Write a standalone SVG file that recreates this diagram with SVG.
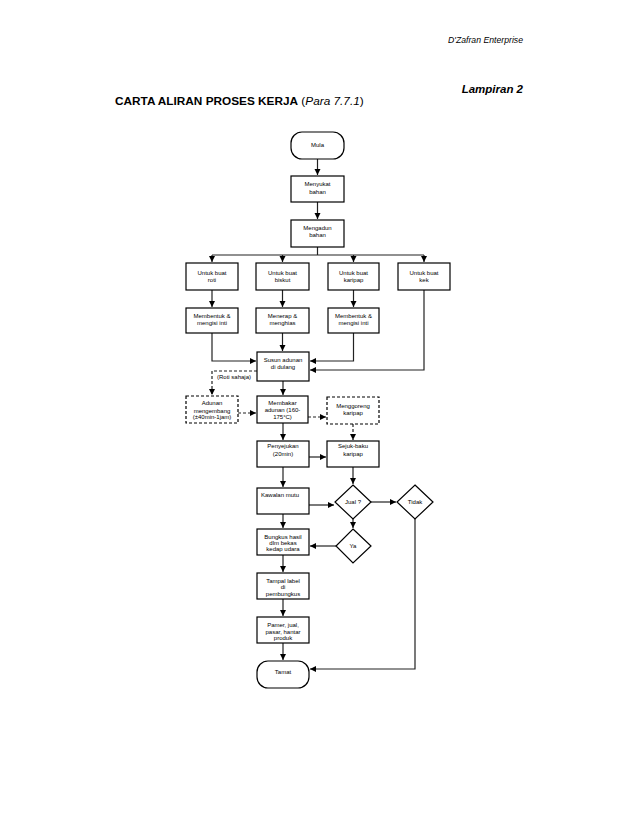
<svg xmlns="http://www.w3.org/2000/svg" width="638" height="826" viewBox="0 0 638 826">
<defs>
<style>
.b{fill:#fff;stroke:#000;stroke-width:1.2}
.d{fill:#fff;stroke:#000;stroke-width:1.2;stroke-dasharray:3,2}
.t{font-family:"Liberation Sans",Arial,sans-serif;font-size:6px;fill:#000;text-anchor:middle}
.c{fill:none;stroke:#222;stroke-width:1.2}
.cd{fill:none;stroke:#222;stroke-width:1.2;stroke-dasharray:3,2}
</style>
<marker id="a" markerUnits="userSpaceOnUse" markerWidth="7" markerHeight="7" refX="6" refY="3" orient="auto">
<path d="M0,0 L6,3 L0,6 z" fill="#000"/>
</marker>
</defs>
<rect width="638" height="826" fill="#fff"/>
<text x="523" y="43" font-family="Liberation Sans,Arial,sans-serif" font-size="9" font-style="italic" text-anchor="end" textLength="75" lengthAdjust="spacingAndGlyphs">D'Zafran Enterprise</text>
<text x="523" y="93" font-family="Liberation Sans,Arial,sans-serif" font-size="11.5" font-weight="bold" font-style="italic" text-anchor="end">Lampiran 2</text>
<text x="115" y="105" font-family="Liberation Sans,Arial,sans-serif" font-size="11.8"><tspan font-weight="bold">CARTA ALIRAN PROSES KERJA</tspan> (<tspan font-style="italic">Para 7.7.1</tspan>)</text>

<g id="connectors">
<path class="c" d="M317.5,159 V175" marker-end="url(#a)"/>
<path class="c" d="M317.5,202 V219" marker-end="url(#a)"/>
<path class="c" d="M317.5,247 V255 M212,255 H424"/>
<path class="c" d="M212,255 V262" marker-end="url(#a)"/>
<path class="c" d="M282.5,255 V262" marker-end="url(#a)"/>
<path class="c" d="M353.5,255 V262" marker-end="url(#a)"/>
<path class="c" d="M424,255 V262" marker-end="url(#a)"/>
<path class="c" d="M212,290 V307" marker-end="url(#a)"/>
<path class="c" d="M282.5,290 V307" marker-end="url(#a)"/>
<path class="c" d="M353.5,290 V307" marker-end="url(#a)"/>
<path class="c" d="M212,333 V361 H256" marker-end="url(#a)"/>
<path class="c" d="M282.5,333 V351" marker-end="url(#a)"/>
<path class="c" d="M353.5,333 V361 H310" marker-end="url(#a)"/>
<path class="c" d="M424,290 V370 H310" marker-end="url(#a)"/>
<path class="cd" d="M257,371 H212 V395" marker-end="url(#a)"/>
<path class="c" d="M283,381 V395" marker-end="url(#a)"/>
<path class="cd" d="M238,413 H256" marker-end="url(#a)"/>
<path class="cd" d="M308,417 H326" marker-end="url(#a)"/>
<path class="cd" d="M353,424 V440" marker-end="url(#a)"/>
<path class="c" d="M283,423 V440" marker-end="url(#a)"/>
<path class="c" d="M309,457 H326" marker-end="url(#a)"/>
<path class="c" d="M353,467 V484" marker-end="url(#a)"/>
<path class="c" d="M283,467 V487" marker-end="url(#a)"/>
<path class="c" d="M309,505 H334" marker-end="url(#a)"/>
<path class="c" d="M371,502 H396" marker-end="url(#a)"/>
<path class="c" d="M353,519 V528" marker-end="url(#a)"/>
<path class="c" d="M336,546 H310" marker-end="url(#a)"/>
<path class="c" d="M283,514 V528" marker-end="url(#a)"/>
<path class="c" d="M283,555 V572" marker-end="url(#a)"/>
<path class="c" d="M283,599 V616" marker-end="url(#a)"/>
<path class="c" d="M283,643 V660" marker-end="url(#a)"/>
<path class="c" d="M415,519 V669 H310" marker-end="url(#a)"/>
</g>

<g id="mula"><rect class="b" x="291" y="132" width="53" height="27" rx="11"/><text class="t" x="317.5" y="147">Mula</text></g>
<g id="menyukat"><rect class="b" x="291" y="176" width="53" height="26"/><text class="t" x="317.5" y="186">Menyukat</text><text class="t" x="317.5" y="194">bahan</text></g>
<g id="mengadun"><rect class="b" x="291" y="220" width="53" height="27"/><text class="t" x="317.5" y="230">Mengadun</text><text class="t" x="317.5" y="237">bahan</text></g>

<g id="roti"><rect class="b" x="186" y="263" width="52" height="27"/><text class="t" x="212" y="275">Untuk buat</text><text class="t" x="212" y="282">roti</text></g>
<g id="biskut"><rect class="b" x="256" y="263" width="53" height="27"/><text class="t" x="282.5" y="275">Untuk buat</text><text class="t" x="282.5" y="282">biskut</text></g>
<g id="karipap"><rect class="b" x="328" y="263" width="51" height="27"/><text class="t" x="353.5" y="275">Untuk buat</text><text class="t" x="353.5" y="282">karipap</text></g>
<g id="kek"><rect class="b" x="398" y="263" width="52" height="27"/><text class="t" x="424" y="275">Untuk buat</text><text class="t" x="424" y="282">kek</text></g>

<g id="membentuk1"><rect class="b" x="186" y="308" width="52" height="25"/><text class="t" x="212" y="318">Membentuk &amp;</text><text class="t" x="212" y="325">mengisi inti</text></g>
<g id="menerap"><rect class="b" x="256" y="308" width="53" height="25"/><text class="t" x="282.5" y="318">Menerap &amp;</text><text class="t" x="282.5" y="325">menghias</text></g>
<g id="membentuk2"><rect class="b" x="328" y="308" width="51" height="25"/><text class="t" x="353.5" y="318">Membentuk &amp;</text><text class="t" x="353.5" y="325">mengisi inti</text></g>

<g id="susun"><rect class="b" x="257" y="352" width="52" height="29"/><text class="t" x="283" y="362">Susun adunan</text><text class="t" x="283" y="369">di dulang</text></g>
<text x="217" y="379" font-family="Liberation Sans,Arial,sans-serif" font-size="6">(Roti sahaja)</text>

<g id="adunan"><rect class="d" x="186" y="396" width="52" height="27"/><text class="t" x="212" y="405">Adunan</text><text class="t" x="212" y="413">mengembang</text><text class="t" x="212" y="419" font-size="5">(±40min-1jam)</text></g>
<g id="membakar"><rect class="b" x="257" y="396" width="51" height="27"/><text class="t" x="282.5" y="405">Membakar</text><text class="t" x="282.5" y="412">adunan (160-</text><text class="t" x="282.5" y="419">175°C)</text></g>
<g id="menggoreng"><rect class="d" x="327" y="397" width="52" height="27"/><text class="t" x="353" y="408">Menggoreng</text><text class="t" x="353" y="415">karipap</text></g>

<g id="penyejukan"><rect class="b" x="257" y="441" width="52" height="26"/><text class="t" x="283" y="448">Penyejukan</text><text class="t" x="283" y="456">(20min)</text></g>
<g id="sejuk"><rect class="b" x="327" y="441" width="52" height="26"/><text class="t" x="353" y="448">Sejuk-baku</text><text class="t" x="353" y="456">karipap</text></g>

<g id="kawalan"><rect class="b" x="257" y="488" width="52" height="26"/><text class="t" x="280" y="497">Kawalan mutu</text></g>
<g id="jual"><path class="b" d="M353,485 L371,502 L353,519 L335,502 Z"/><text class="t" x="353" y="504">Jual ?</text></g>
<g id="tidak"><path class="b" d="M415,485 L433,502 L415,519 L397,502 Z"/><text class="t" x="415" y="504">Tidak</text></g>
<g id="ya"><path class="b" d="M353,529 L371,546 L353,563 L336,546 Z"/><text class="t" x="353" y="548">Ya</text></g>

<g id="bungkus"><rect class="b" x="257" y="529" width="52" height="26"/><text class="t" x="283" y="539">Bungkus hasil</text><text class="t" x="283" y="545">dlm bekas</text><text class="t" x="283" y="551">kedap udara</text></g>
<g id="tampal"><rect class="b" x="257" y="573" width="52" height="26"/><text class="t" x="283" y="583">Tampal label</text><text class="t" x="283" y="589">di</text><text class="t" x="283" y="596">pembungkus</text></g>
<g id="pamer"><rect class="b" x="257" y="617" width="52" height="26"/><text class="t" x="283" y="627">Pamer, jual,</text><text class="t" x="283" y="634">pasar, hantar</text><text class="t" x="283" y="640">produk</text></g>
<g id="tamat"><rect class="b" x="257" y="661" width="52" height="27" rx="11"/><text class="t" x="283" y="674">Tamat</text></g>
</svg>
